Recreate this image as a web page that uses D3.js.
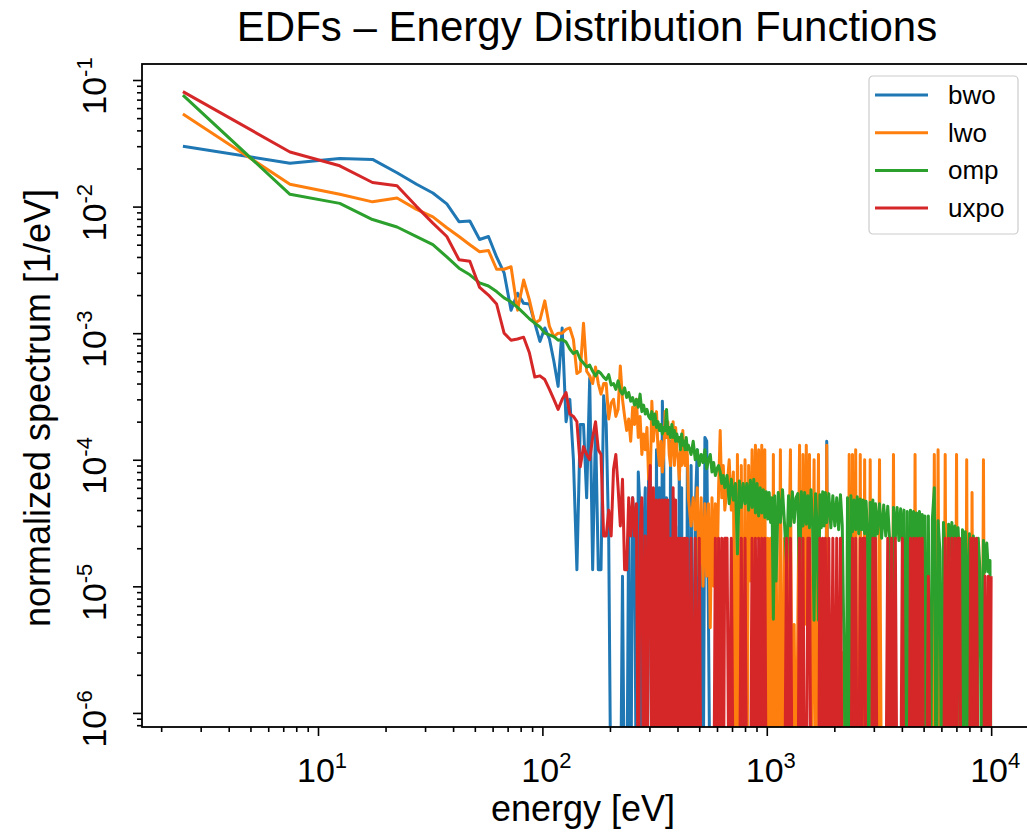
<!DOCTYPE html>
<html lang="en">
<head>
  <meta charset="UTF-8">
  <title>EDFs – Energy Distribution Functions</title>
  <style>
    body { margin: 0; background: #fff; }
    svg { display: block; font-family: "Liberation Sans", Arial, sans-serif; }
  </style>
</head>
<body>
  <div id="chart"></div>

  <script src="https://d3js.org/d3.v7.min.js"></script>
  <script>
    const SVGWIDTH = 1027;
    const SVGHEIGHT = 832;
    // the axes box runs a few px past the right edge of the picture
    const margin = {top: 64, left: 142};
    const innerWidth = 889;
    const innerHeight = 663;

    const UNIT = 1e-5;        // the series below are written in units of 1e-5 1/eV
    const ZERO_FLOOR = 1e-7;  // empty bins drop below the visible axis, like a clipped log axis

    // bin energies [eV], 5 eV bins at the low end, sampled more coarsely further up
    const energy = [
      2.5, 7.5, 12.5, 17.5, 22.5, 27.5, 32.5, 37.5, 42.5, 47.5,
      52.5, 57.5, 62.5, 67.5, 72.5, 77.5, 82.5, 87.5, 92.5, 97.5,
      102.5, 107.5, 112.5, 117.5, 122.5, 127.5, 132.5, 137.5, 142.5, 147.5,
      152.5, 157.5, 162.5, 167.5, 172.5, 177.5, 182.5, 187.5, 192.5, 197.5,
      202.5, 207.5, 212.5, 217.5, 222.5, 227.5, 232.5, 237.5, 242.5, 247.5,
      252.5, 257.5, 262.5, 267.5, 272.5, 277.5, 282.5, 287.5, 292.5, 297.5,
      302.5, 307.5, 312.5, 317.5, 322.5, 327.5, 332.5, 337.5, 342.5, 347.5,
      352.5, 357.5, 362.5, 367.5, 372.5, 377.5, 382.5, 387.5, 392.5, 397.5,
      402.5, 407.5, 412.5, 417.5, 422.5, 427.5, 432.5, 437.5, 442.5, 447.5,
      460, 470, 480, 490, 500, 510, 520, 530, 540, 550,
      560, 570, 580, 590, 600, 610, 620, 630, 640, 650,
      665, 680, 695, 710, 725, 740, 755, 770, 785, 800,
      815, 830, 845, 860, 875, 890, 905, 920, 935, 950,
      965, 980, 995, 1010, 1025, 1040, 1055, 1070, 1085, 1100,
      1125, 1150, 1175, 1200, 1225, 1250, 1275, 1300, 1325, 1350,
      1375, 1400, 1425, 1450, 1475, 1500, 1525, 1550, 1575, 1600,
      1625, 1650, 1675, 1700, 1725, 1750, 1775, 1800, 1825, 1850,
      1890, 1930, 1970, 2010, 2050, 2090, 2130, 2170, 2210, 2250,
      2290, 2330, 2370, 2410, 2450, 2490, 2530, 2570, 2610, 2650,
      2690, 2730, 2770, 2810, 2850, 2890, 2930, 2970, 3010, 3050,
      3110, 3180, 3250, 3320, 3390, 3460, 3530, 3600, 3670, 3740,
      3810, 3880, 3950, 4020, 4090, 4160, 4230, 4300, 4370, 4440,
      4510, 4580, 4650, 4720, 4790, 4860, 4930, 5000, 5070, 5140,
      5250, 5360, 5470, 5580, 5690, 5800, 5910, 6020, 6130, 6240,
      6350, 6460, 6570, 6680, 6790, 6900, 7010, 7120, 7230, 7340,
      7450, 7560, 7670, 7780, 7890, 8000, 8110, 8220, 8330, 8440,
      8600, 8760, 8920, 9080, 9240, 9400, 9560, 9720, 9880, 9997.5
    ];

    const bwo = [
      3000, 2200, 2400, 2360, 1850, 1500, 1280, 1050, 760, 770,
      550, 580, 400, 300, 152, 207, 172, 170, 120, 86,
      110, 90, 60, 38, 110, 20, 30, 10, 1.35, 19,
      19, 5, 44, 1.35, 19, 1.35, 1.35, 32, 19, 2.4,
      0, 0, 0, 0, 0, 1.2, 0, 0, 4, 0,
      5, 3, 0, 8, 4, 0, 2.5, 6, 0, 9,
      9, 0, 4, 0, 12, 0, 6, 0, 29, 10,
      0, 5, 0, 0, 14, 0, 5, 0, 3, 0,
      0, 11, 0, 6, 0, 2, 0, 0, 9, 0,
      9, 0, 4, 12, 0, 3, 0, 15, 14, 0.5,
      0, 0, 0, 0, 0, 0, 0, 0, 0, 0,
      0, 0, 0, 0, 0, 0, 0, 0, 0, 0,
      0, 0, 0, 0, 0, 0, 0, 0, 0, 0,
      0, 0, 0, 0, 0, 0, 0, 0, 0, 0,
      0, 0, 0, 0, 0, 0, 0, 0, 0, 0,
      0, 0, 0, 0, 0, 0, 0, 0, 0, 0,
      0, 0, 0, 0, 0, 0, 0, 0, 0, 14,
      0, 0, 0, 0, 0, 0, 0, 0, 0, 0,
      0, 0, 0, 0, 0, 0, 0, 0, 0, 0,
      0, 0, 0, 0, 0, 0, 0, 0, 0, 0,
      0, 0, 0, 0, 0, 0, 0, 0, 0, 0,
      0, 0, 0, 0, 0, 0, 0, 0, 0, 0,
      0, 0, 0, 0, 0, 0, 0, 0, 0, 0,
      0, 0, 0, 0, 0, 0, 0, 0, 0, 0,
      0, 0, 0, 0, 0, 0, 0, 0, 0, 0,
      0, 0, 0, 0, 0, 0, 0, 0, 0, 0,
      0, 0, 0, 0, 0, 0, 0, 0, 0, 0
    ];

    const lwo = [
      5400, 1500, 1250, 1090, 1170, 950, 830, 680, 580, 500,
      440, 450, 320, 320, 335, 152, 263, 183, 120, 127,
      180, 113, 94, 100, 100, 107, 110, 89, 48, 50,
      120, 50, 46, 40, 54, 40, 33, 40, 40, 21,
      28, 30, 22, 25, 55, 30, 22, 17, 21, 14,
      26, 19, 30, 15, 22, 11, 16, 12, 18, 7,
      7, 29, 14, 20, 24, 12, 9, 14, 8, 11,
      24, 15, 20, 11, 9, 14, 20, 9, 18, 12,
      10, 7, 12, 9, 17, 10, 9, 13, 11, 5,
      3, 5, 2.8, 6, 1.2, 5, 1, 4.5, 1.2, 4.5,
      0.47, 5, 1, 4.5, 1.1, 6, 17, 5, 9, 4,
      6, 10, 4, 8, 0, 11, 0, 9, 0, 10,
      0, 9, 1.1, 12, 1.1, 13, 2.4, 12, 1.1, 13,
      1.1, 12, 0, 2.4, 0, 2.4, 0, 11, 0, 2.4,
      0, 12, 0, 2.4, 0, 1.1, 12, 0, 0.5, 0,
      0.5, 13, 0, 11, 0.5, 13, 0.5, 11, 0, 0.5,
      10, 0, 0.5, 11, 0, 0.5, 0, 0.5, 0, 13,
      0, 0.3, 0, 0.3, 0, 0.3, 0, 0.3, 0, 0.3,
      0, 11, 0, 11, 0, 12, 0, 0, 11, 0,
      0, 10, 0, 0, 0, 10, 0, 0, 0, 0,
      0, 10, 0, 0, 0, 0, 0, 0, 11, 0,
      0, 0, 0, 0, 0, 0, 0, 0, 0, 0,
      0, 11, 0, 0, 0, 0, 0, 0, 0, 0,
      0, 0, 0, 11, 0, 12, 0, 0, 0, 11,
      0, 0, 0, 0, 0, 0, 11, 0, 0, 0,
      0, 0, 0, 10, 0, 0, 0, 5.5, 0, 0,
      0, 0, 0, 0, 10, 0, 0, 0, 0, 0
    ];

    const omp = [
      7600, 1250, 1060, 790, 690, 580, 500, 400, 326, 289,
      250, 236, 213, 190, 177, 160, 144, 130, 120, 112,
      100, 97, 94, 88, 89, 85, 75, 69, 72, 62,
      58, 54, 56, 50, 46, 50, 48, 45, 43, 47,
      39, 40, 36, 42, 35, 33, 37, 31, 34, 29,
      31, 27, 30, 26, 33, 24, 27, 23, 25, 22,
      21, 24, 19, 23, 18, 20, 17, 19, 16, 18,
      17, 25, 16, 18, 15, 19, 15, 17, 14, 16,
      14, 15, 12, 16, 13, 14, 12, 15, 12, 13,
      11, 14, 10, 12, 9, 11, 9.5, 12, 8.5, 10,
      11, 8, 9.5, 7.5, 8.5, 9, 8, 6.5, 7.5, 6,
      7.5, 4.5, 7, 4.8, 6.5, 1.8, 6.8, 4.2, 6.5, 4.5,
      6.5, 4, 6.9, 4.2, 7, 3.8, 6.5, 3.6, 6, 3.8,
      5.8, 3.5, 5.6, 3.4, 5.5, 3.2, 5, 0.55, 5.2, 1.1,
      5.5, 3.2, 5.8, 3.1, 1.5, 5.2, 3, 5.6, 3.2, 5,
      5.4, 1.1, 5.6, 3, 5.5, 3.1, 5.2, 2.9, 5.8, 3,
      0.54, 5.4, 3, 0.54, 5.3, 2.9, 5.6, 3, 5.5, 3.2,
      5.4, 2.9, 5.2, 3, 5, 2.8, 5.3, 3, 0.3, 0,
      5, 0, 5.2, 2.7, 4.8, 2.8, 5.1, 2.6, 4.9, 2.8,
      4.8, 2.6, 4.7, 2.7, 0, 4.6, 2.5, 4.8, 0, 4.5,
      2.6, 4.5, 2.4, 4.4, 2.5, 4.3, 2.3, 0, 4.2, 2.4,
      4.2, 2.3, 4.1, 2.2, 4, 0, 3.9, 0, 4, 2.2,
      3.9, 2.1, 3.8, 2, 3.9, 2.1, 3.7, 0, 3.6, 0,
      3.6, 0, 3.4, 6, 0, 3.3, 1.9, 0, 3.2, 1.8,
      0, 3.1, 1.7, 3.2, 1.6, 3, 0, 2.9, 1.6, 0,
      2.8, 0, 2.7, 1.5, 0, 2.6, 1.4, 0, 2.5, 1.4,
      0, 2.4, 1.3, 0, 2.3, 1.3, 2.2, 1.3, 1.6, 0
    ];

    const uxpo = [
      8100, 2700, 2100, 1550, 1460, 1000, 740, 580, 380, 370,
      230, 200, 170, 100, 88, 90, 93, 70, 45, 46,
      43, 36, 30, 25, 30, 34, 23, 22, 20, 8.8,
      12.7, 11, 10, 15, 20, 12, 11, 2.5, 2.5, 4,
      2.5, 8.4, 11, 6, 3, 7, 1.35, 1.35, 5, 2.5,
      5, 2.5, 4.5, 0, 2.5, 5, 0, 2.5, 0, 5,
      9, 0, 6, 0, 4.8, 0, 4.8, 0, 4.8, 0,
      4.8, 0, 4.8, 0, 2.4, 0, 6, 0, 4.8, 0,
      2.4, 0, 2.4, 0, 2.4, 0, 2.4, 0, 2.4, 0,
      2.4, 0, 2.4, 0, 2.4, 0, 0, 0, 0, 0,
      0, 0, 0, 2.4, 0, 2.4, 0, 2.4, 0, 2.4,
      2.4, 0, 2.4, 0, 0, 0, 0, 2.4, 0, 2.4,
      0, 0, 0, 2.4, 0, 2.4, 0, 2.4, 0, 2.4,
      0, 2.4, 0, 0, 0, 0, 0, 0, 0, 0,
      0, 0, 0, 0, 2.4, 0, 2.4, 0, 0, 0,
      0, 2.4, 0, 2.4, 0, 0, 2.4, 2.4, 0, 0,
      0, 0, 0, 0, 2.4, 0, 2.4, 0, 2.4, 0,
      2.4, 0, 2.4, 0, 2.4, 0, 2.4, 0, 0, 0,
      0, 0, 0, 2.4, 0, 2.4, 0, 0, 2.4, 0,
      2.4, 2.4, 0, 0, 0, 0, 0, 2.4, 0, 2.4,
      0, 0, 0, 0, 0, 2.4, 0, 2.4, 0, 2.4,
      0, 0, 0, 2.4, 0, 0, 0, 0, 2.4, 0,
      2.4, 0, 2.4, 0, 2.4, 0, 2.4, 0, 0, 0,
      1.2, 0, 0, 0, 0, 0, 0, 0, 0, 2.4,
      0, 2.4, 0, 2.4, 0, 2.4, 0, 2.4, 2.4, 0,
      0, 0, 0, 0, 0, 0, 2.4, 0, 2.4, 0,
      2.4, 0, 0, 0, 0, 1.2, 0, 1.2, 0, 1.2
    ];

    const seriesNames = ['bwo', 'lwo', 'omp', 'uxpo'];
    const seriesValues = [bwo, lwo, omp, uxpo];
    const seriesColors = ['#1f77b4', '#ff7f0e', '#2ca02c', '#d62728'];
    const xMajorTicks = [10, 100, 1000, 10000];
    const yMajorTicks = [1e-6, 1e-5, 1e-4, 1e-3, 1e-2, 1e-1];

    const xScale = d3.scaleLog()
      .domain([1.643, 15050])
      .range([0, innerWidth]);

    const yScale = d3.scaleLog()
      .domain([7.74e-7, 0.1338])
      .range([innerHeight, 0]);

    const svg = d3.select('#chart')
      .append('svg')
      .attr('width', SVGWIDTH)
      .attr('height', SVGHEIGHT);

    svg.append('defs').append('clipPath').attr('id', 'plotClip')
      .append('rect')
      .attr('width', innerWidth)
      .attr('height', innerHeight);

    const mainCont = svg.append('g')
      .attr('transform', `translate(${margin.left},${margin.top})`);

    // empty bins go down past the bottom of the axes
    const yPos = v => v > 0 ? yScale(v * UNIT) : yScale(ZERO_FLOOR);
    const line = d3.line()
      .x((d, i) => xScale(energy[i]))
      .y(d => yPos(d));

    const plotArea = mainCont.append('g').attr('clip-path', 'url(#plotClip)');
    plotArea.selectAll('path.series')
      .data(seriesValues)
      .join('path')
      .attr('class', 'series')
      .attr('d', d => line(d))
      .attr('fill', 'none')
      .attr('stroke', (d, i) => seriesColors[i])
      .attr('stroke-width', 3)
      .attr('stroke-linejoin', 'round');

    // ticks (labels are drawn separately, with superscript exponents)
    const isMajor = v => Math.abs(Math.log10(v) - Math.round(Math.log10(v))) < 1e-9;
    const styleTicks = g => {
      g.select('.domain').remove();
      g.selectAll('text').remove();
      g.selectAll('line').attr('stroke', '#000').attr('stroke-width', 1.6);
    };

    mainCont.append('g')
      .attr('transform', `translate(0,${innerHeight})`)
      .call(d3.axisBottom(xScale).tickValues(xScale.ticks().filter(v => !isMajor(v))).tickSize(5))
      .call(styleTicks);
    mainCont.append('g')
      .attr('transform', `translate(0,${innerHeight})`)
      .call(d3.axisBottom(xScale).tickValues(xMajorTicks).tickSize(9))
      .call(styleTicks);
    mainCont.append('g')
      .call(d3.axisLeft(yScale).tickValues(yScale.ticks().filter(v => !isMajor(v))).tickSize(5))
      .call(styleTicks);
    mainCont.append('g')
      .call(d3.axisLeft(yScale).tickValues(yMajorTicks).tickSize(9))
      .call(styleTicks);

    // frame
    mainCont.append('rect')
      .attr('width', innerWidth)
      .attr('height', innerHeight)
      .attr('fill', 'none')
      .attr('stroke', '#000')
      .attr('stroke-width', 1.8);

    // "10" plus a raised exponent, centred on the group origin
    const powerLabel = (g, exp) => {
      const base = g.append('text').attr('font-size', 34).text('10');
      const sup = g.append('text').attr('font-size', 22).attr('y', -14).text(exp);
      const wBase = base.node().getComputedTextLength();
      const wSup = sup.node().getComputedTextLength();
      base.attr('x', -(wBase + wSup) / 2);
      sup.attr('x', -(wBase + wSup) / 2 + wBase);
    };

    svg.append('g').selectAll('g')
      .data(xMajorTicks)
      .join('g')
      .attr('transform', d => `translate(${margin.left + xScale(d) + 4},782)`)
      .each(function (d) { powerLabel(d3.select(this), String(Math.round(Math.log10(d)))); });

    svg.append('g').selectAll('g')
      .data(yMajorTicks)
      .join('g')
      .attr('transform', d => `translate(106,${margin.top + yScale(d) + 6}) rotate(-90)`)
      .each(function (d) { powerLabel(d3.select(this), '-' + Math.round(-Math.log10(d))); });

    // titles
    svg.append('text')
      .attr('x', 587).attr('y', 41)
      .attr('text-anchor', 'middle')
      .attr('font-size', 42)
      .text('EDFs – Energy Distribution Functions');

    svg.append('text')
      .attr('x', 583).attr('y', 821)
      .attr('text-anchor', 'middle')
      .attr('font-size', 36)
      .text('energy [eV]');

    svg.append('text')
      .attr('transform', 'translate(50,408) rotate(-90)')
      .attr('text-anchor', 'middle')
      .attr('font-size', 36)
      .text('normalized spectrum [1/eV]');

    // legend
    const legend = svg.append('g').attr('transform', 'translate(869,76)');
    legend.append('rect')
      .attr('width', 149)
      .attr('height', 158)
      .attr('rx', 4)
      .attr('fill', '#fff')
      .attr('fill-opacity', 0.8)
      .attr('stroke', '#cccccc')
      .attr('stroke-width', 1.2);
    const legendRows = legend.selectAll('g.item')
      .data(seriesNames)
      .join('g')
      .attr('class', 'item')
      .attr('transform', (d, i) => `translate(0,${19 + i * 37.7})`);
    legendRows.append('line')
      .attr('x1', 6).attr('x2', 59)
      .attr('stroke', (d, i) => seriesColors[i])
      .attr('stroke-width', 3);
    legendRows.append('text')
      .attr('x', 79).attr('y', 9)
      .attr('font-size', 26)
      .text(d => d);
  </script>
</body>
</html>
